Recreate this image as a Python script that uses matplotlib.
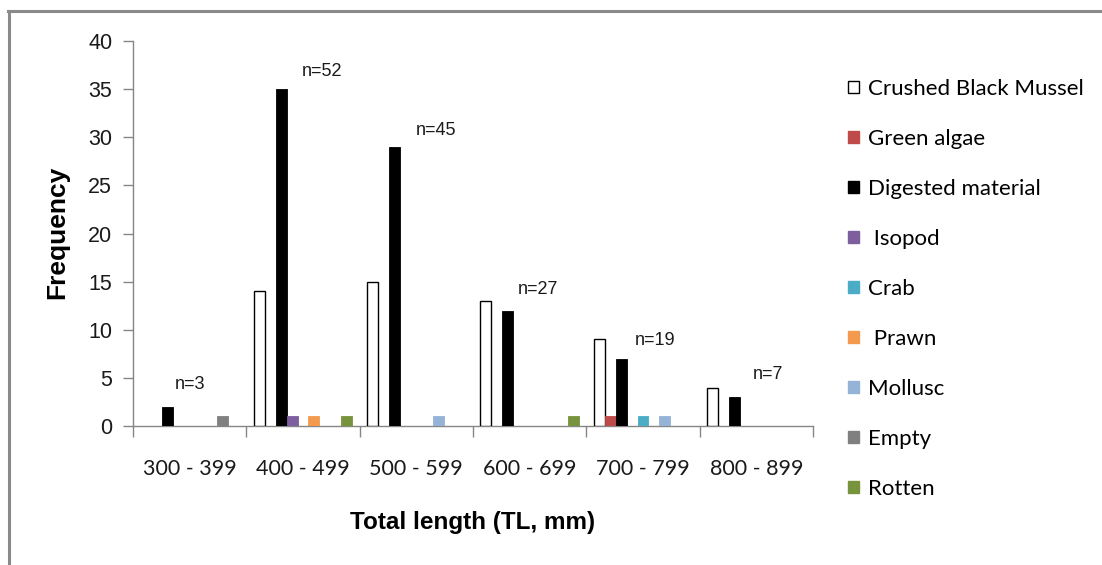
import matplotlib
matplotlib.use("Agg")
import matplotlib.pyplot as plt
from matplotlib.patches import Patch
from matplotlib.lines import Line2D
import numpy as np

# Length classes
categories = ["300 - 399", "400 - 499", "500 - 599", "600 - 699", "700 - 799", "800 - 899"]

# Frequency of each diet item per length class
crushed_black_mussel = [0, 14, 15, 13, 9, 4]
green_algae          = [0, 0, 0, 0, 1, 0]
digested_material    = [2, 35, 29, 12, 7, 3]
isopod               = [0, 1, 0, 0, 0, 0]
crab                 = [0, 0, 0, 0, 1, 0]
prawn                = [0, 1, 0, 0, 0, 0]
mollusc              = [0, 0, 1, 0, 1, 0]
empty                = [1, 0, 0, 0, 0, 0]
rotten               = [0, 1, 0, 1, 0, 0]

# Sample size per length class
sample_sizes = [3, 52, 45, 27, 19, 7]

series_names = ["Crushed Black Mussel", "Green algae", "Digested material", " Isopod",
                "Crab", " Prawn", "Mollusc", "Empty", "Rotten"]
series_values = [crushed_black_mussel, green_algae, digested_material, isopod,
                 crab, prawn, mollusc, empty, rotten]
face_colors = ["white", "#BE4B48", "black", "#7D5FA0", "#4BACC6", "#F39A4E",
               "#95B3D7", "#808080", "#77933C"]

# Where the n= annotations sit (category units, frequency units)
n_label_pos = [(0.00, 4.3), (1.17, 36.8), (2.17, 30.7), (3.07, 14.2), (4.11, 8.9), (5.10, 5.4)]

W, H = 1102, 565
fig = plt.figure(figsize=(W / 100, H / 100), dpi=100)
fig.patch.set_facecolor("white")

ax = fig.add_axes([133 / W, 1 - 426 / H, 680 / W, 385 / H])

n_series = len(series_values)
bar_w = 0.097
x = np.arange(len(categories))
offsets = (np.arange(n_series) - (n_series - 1) / 2) * bar_w

for vals, off, fc in zip(series_values, offsets, face_colors):
    vals = np.asarray(vals, dtype=float)
    mask = vals > 0
    ec = "black" if fc == "white" else fc
    ax.bar(x[mask] + off, vals[mask], width=bar_w, color=fc, edgecolor=ec,
           linewidth=1.0 if fc == "white" else 0.6, zorder=3)

ax.set_xlim(-0.5, len(categories) - 0.5)
ax.set_ylim(0, 40)
ax.set_yticks(np.arange(0, 41, 5))

spine_c = "#868686"
for s in ["top", "right"]:
    ax.spines[s].set_visible(False)
for s in ["left", "bottom"]:
    ax.spines[s].set_color(spine_c)
    ax.spines[s].set_linewidth(1.0)

ax.tick_params(axis="y", direction="out", length=7, color=spine_c, width=1.0,
               labelsize=15.5, pad=8)
for lab in ax.get_yticklabels():
    lab.set_family("Liberation Sans")
    lab.set_color("#1a1a1a")

ax.set_xticks(x)
ax.set_xticklabels(categories, family="Lato", fontsize=15.5, color="#1a1a1a")
ax.tick_params(axis="x", which="major", length=0, pad=24)
ax.set_xticks(np.arange(-0.5, len(categories)), minor=True)
ax.tick_params(axis="x", which="minor", direction="out", length=8, color=spine_c, width=1.0)

for n, (px, py) in zip(sample_sizes, n_label_pos):
    ax.text(px, py, f"n={n}", fontsize=13, family="Liberation Sans",
            color="#1a1a1a", ha="center", va="center")

fig.text(57 / W, 1 - 232 / H, "Frequency", rotation=90, family="Liberation Sans",
         fontweight="bold", fontsize=19, ha="center", va="center")
fig.text(473 / W, 1 - 522 / H, "Total length (TL, mm)", family="Liberation Sans",
         fontweight="bold", fontsize=17.5, ha="center", va="center")

handles = [Patch(facecolor=fc, edgecolor=("black" if fc == "white" else fc), linewidth=1.0)
           for fc in face_colors]
fig.legend(handles, series_names, loc="upper left", bbox_to_anchor=(848 / W, 1 - 79 / H),
           frameon=False, prop={"family": "Lato", "size": 16},
           handlelength=0.5, handleheight=0.5, handletextpad=0.4,
           labelspacing=1.35, borderaxespad=0, borderpad=0)

# Frame lines along the top and left edges
fig.add_artist(Line2D([8 / W, 1.0], [1 - 11 / H, 1 - 11 / H], transform=fig.transFigure,
                      color="#8a8a8a", linewidth=2.2))
fig.add_artist(Line2D([9 / W, 9 / W], [1 - 11 / H, 0.0], transform=fig.transFigure,
                      color="#8a8a8a", linewidth=2.2))

fig.savefig("out.png", dpi=100, facecolor="white")
